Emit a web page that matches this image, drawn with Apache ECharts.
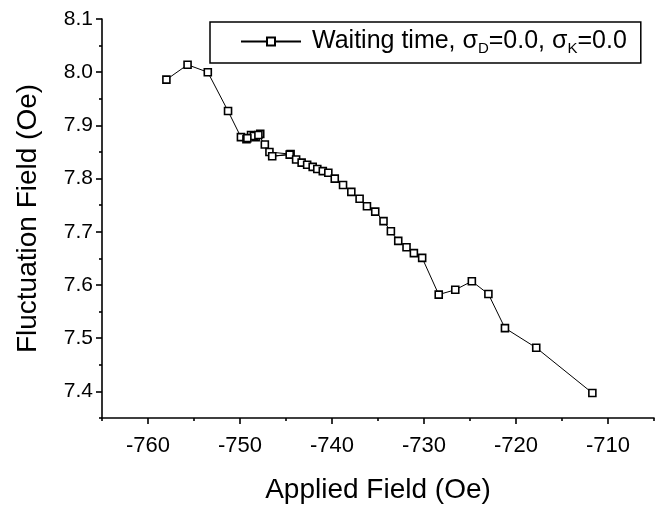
<!DOCTYPE html>
<html>
<head>
<meta charset="utf-8">
<script src="https://cdn.jsdelivr.net/npm/echarts@6/dist/echarts.min.js"></script>
<style>
  html, body { margin: 0; padding: 0; background: #fff; }
  #chart { width: 655px; height: 509px; }
</style>
</head>
<body>
<div id="chart"></div>
<script>
// applied field (Oe) and fluctuation field (Oe), in measurement order
var appliedField = [-758.0, -755.7, -753.5, -751.3, -749.9, -749.3, -748.8, -748.3, -747.8, -748.5,
  -749.2, -748.0, -747.3, -746.8, -744.5, -746.5, -744.6, -743.9, -743.3, -742.7,
  -742.1, -741.6, -741.0, -740.4, -739.7, -738.8, -737.9, -737.0, -736.2, -735.3,
  -734.4, -733.6, -732.8, -731.9, -731.1, -730.2, -728.4, -726.6, -724.8, -723.0,
  -721.2, -717.8, -711.7];
var fluctField = [7.986, 8.014, 8.000, 7.927, 7.878, 7.874, 7.882, 7.878, 7.884, 7.880,
  7.876, 7.882, 7.864, 7.850, 7.846, 7.842, 7.845, 7.836, 7.830, 7.826,
  7.822, 7.818, 7.814, 7.811, 7.800, 7.788, 7.775, 7.762, 7.748, 7.738,
  7.720, 7.701, 7.683, 7.671, 7.660, 7.651, 7.582, 7.591, 7.607, 7.583,
  7.519, 7.482, 7.397];

var xMajor = [-760, -750, -740, -730, -720, -710];
var xMinor = [-765, -755, -745, -735, -725, -715, -705];
var yMajor = [7.4, 7.5, 7.6, 7.7, 7.8, 7.9, 8.0, 8.1];
var yMinor = [7.35, 7.45, 7.55, 7.65, 7.75, 7.85, 7.95, 8.05];

var font = 'Liberation Sans, Arial, sans-serif';
var chart = echarts.init(document.getElementById('chart'));

var pts = [];
for (var i = 0; i < appliedField.length; i++) pts.push([appliedField[i], fluctField[i]]);

var axisLineStyle = { color: '#000', width: 1.6 };

chart.setOption({
  animation: false,
  backgroundColor: '#fff',
  grid: { left: 102, right: 1, top: 19, bottom: 87 },
  legend: {
    left: 210, top: 22,
    data: ['Waiting time'],
    borderColor: '#000', borderWidth: 1.5, borderRadius: 0,
    padding: [7, 14, 7, 30],
    itemWidth: 60, itemHeight: 10, itemGap: 6,
    formatter: function () {
      return 'Waiting time, σ{sub|D}=0.0, σ{sub|K}=0.0';
    },
    textStyle: {
      fontFamily: font, fontSize: 25, color: '#000', padding: [0, 0, 0, 6],
      rich: {
        sub: { fontFamily: font, fontSize: 15, color: '#000', padding: [14, 0, 0, 0] }
      }
    }
  },
  xAxis: [{
    type: 'value', min: -765, max: -705,
    name: 'Applied Field (Oe)', nameLocation: 'middle', nameGap: 58,
    nameTextStyle: { fontFamily: font, fontSize: 28, color: '#000' },
    axisLine: { lineStyle: axisLineStyle },
    axisTick: { customValues: xMajor, length: 6, inside: false, lineStyle: axisLineStyle },
    axisLabel: { customValues: xMajor, fontFamily: font, fontSize: 22, color: '#000', margin: 17 },
    splitLine: { show: false }
  }, {
    type: 'value', min: -765, max: -705, position: 'bottom',
    axisLine: { show: false },
    axisTick: { customValues: xMinor, length: 3, lineStyle: axisLineStyle },
    axisLabel: { show: false },
    splitLine: { show: false }
  }],
  yAxis: [{
    type: 'value', min: 7.35, max: 8.1,
    name: 'Fluctuation Field (Oe)', nameLocation: 'middle', nameGap: 60,
    nameTextStyle: { fontFamily: font, fontSize: 28, color: '#000' },
    axisLine: { lineStyle: axisLineStyle },
    axisTick: { customValues: yMajor, length: 6, lineStyle: axisLineStyle },
    axisLabel: {
      customValues: yMajor, fontFamily: font, fontSize: 21, color: '#000', margin: 9,
      formatter: function (v) { return v.toFixed(1); }
    },
    splitLine: { show: false }
  }, {
    type: 'value', min: 7.35, max: 8.1, position: 'left',
    axisLine: { show: false },
    axisTick: { customValues: yMinor, length: 3, lineStyle: axisLineStyle },
    axisLabel: { show: false },
    splitLine: { show: false }
  }],
  series: [{
    name: 'Waiting time',
    type: 'line',
    xAxisIndex: 0, yAxisIndex: 0,
    data: pts,
    symbol: 'rect', symbolSize: 7,
    showAllSymbol: true,
    lineStyle: { color: '#000', width: 1 },
    itemStyle: { color: '#fff', borderColor: '#000', borderWidth: 1.6 }
  }]
});
</script>
</body>
</html>
